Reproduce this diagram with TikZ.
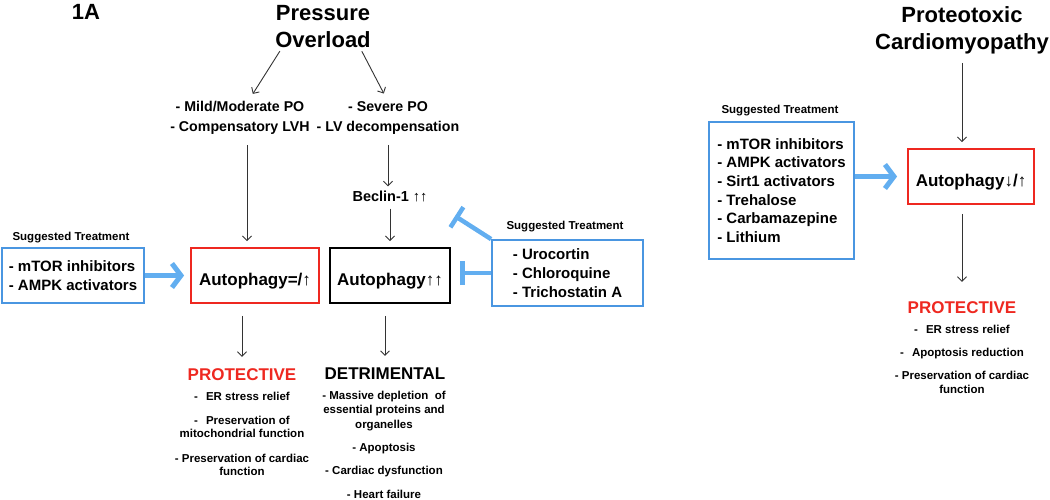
\documentclass[tikz,border=0pt]{standalone}
\usepackage{fontspec}
\setmainfont{Liberation Sans}
\usetikzlibrary{arrows.meta}

\definecolor{treatblue}{RGB}{98,174,240}
\definecolor{boxblue}{RGB}{74,150,225}
\definecolor{protred}{RGB}{238,40,32}

\newcommand\uparr{{\mdseries ↑}}
\newcommand\downarr{{\mdseries ↓}}

\tikzset{
  heading/.style={font=\bfseries\fontsize{22}{27}\selectfont, align=center, inner sep=0pt},
  sublabel/.style={font=\bfseries\fontsize{14.2}{20}\selectfont, align=center, inner sep=0pt},
  sugg/.style={font=\bfseries\fontsize{11.5}{14}\selectfont, inner sep=0pt},
  treat/.style={draw=boxblue, line width=1.8pt, font=\bfseries\fontsize{15}{18.7}\selectfont, align=left, inner sep=0pt},
  autobox/.style={draw, line width=1.8pt, font=\bfseries\fontsize{17}{20}\selectfont, minimum height=55pt, text height=24pt, text depth=4pt, inner sep=0pt},
  effect/.style={font=\bfseries\fontsize{17}{20}\selectfont, inner sep=0pt},
  itemlist/.style={font=\bfseries\fontsize{11.5}{13}\selectfont, align=center, inner sep=0pt, anchor=north},
  fine/.style={black!80, line width=0.9pt, -{Straight Barb[length=4.5pt,width=9pt]}},
  fat/.style={treatblue, line width=5pt, -{Straight Barb[length=9pt,width=24pt]}},
  inhib/.style={treatblue, line width=4.5pt, -{Bar[width=24pt]}}
}

\begin{document}
\begin{tikzpicture}[x=1pt, y=-1pt]
  \useasboundingbox (0,0) rectangle (1050,499);

  % headings
  \node[heading] (fig) at (86,12) {1A};
  \node[heading, anchor=north] (po) at (323,5) {Pressure\\Overload};
  \node[heading, anchor=north] (proteo) at (962,6) {Proteotoxic\\Cardiomyopathy};

  \node[sublabel, anchor=north] (mild) at (240,101.5) {- Mild/Moderate PO\\- Compensatory LVH};
  \node[sublabel, anchor=north] (severe) at (388,101.5) {- Severe PO\\- LV decompensation};
  \node[font=\bfseries\fontsize{14.5}{17}\selectfont, inner sep=0pt] (beclin) at (390,196) {Beclin-1 \uparr\uparr};

  % autophagy boxes
  \node[autobox, draw=protred, minimum width=128pt] (auto1) at (255,275.5) {Autophagy=/\uparr};
  \node[autobox, minimum width=120pt] (auto2) at (390,275.5) {Autophagy\uparr\uparr};
  \node[autobox, draw=protred, minimum width=126pt] (auto3) at (971,176.5) {Autophagy\downarr/\uparr};

  % treatments
  \foreach \x/\y/\n in {71/238/suggA, 565/227/suggB, 780/111/suggC}
    \node[sugg] (\n) at (\x,\y) {Suggested Treatment};
  \node[treat, minimum width=142pt, minimum height=55pt] (treat1) at (73,275.5)
    {- mTOR inhibitors\\- AMPK activators};
  \node[treat, minimum width=151pt, minimum height=66pt] (treat2) at (567.5,273)
    {- Urocortin\\- Chloroquine\\- Trichostatin A};
  \node[treat, minimum width=145pt, minimum height=137pt] (treat3) at (781.5,190.5)
    {- mTOR inhibitors\\- AMPK activators\\- Sirt1 activators\\- Trehalose\\- Carbamazepine\\- Lithium};

  % outcomes
  \node[effect, text=protred] (prot1) at (242,375) {PROTECTIVE};
  \node[effect] (det) at (385,374) {DETRIMENTAL};
  \node[effect, text=protred] (prot3) at (962,308) {PROTECTIVE};

  \node[itemlist] (protlist1) at (242,391.5) {-\hspace{8pt}ER stress relief\\[11.5pt]
    -\hspace{8pt}Preservation of\\mitochondrial function\\[11.5pt]
    - Preservation of cardiac\\function};
  \node[itemlist, font=\bfseries\fontsize{11.5}{14.5}\selectfont] (detlist) at (384,390.5)
    {- Massive depletion\ \ of\\essential proteins and\\organelles\\[8.5pt]
    - Apoptosis\\[8.5pt]- Cardiac dysfunction\\[9.5pt]- Heart failure};
  \node[itemlist, font=\bfseries\fontsize{11.5}{14}\selectfont] (protlist3) at (962,324.5)
    {-\hspace{8pt}ER stress relief\\[9.5pt]-\hspace{8pt}Apoptosis reduction\\[9pt]
    - Preservation of cardiac\\function};

  % connectors
  \draw[fine, shorten <=4pt, shorten >=9pt] ([xshift=-41pt]po.south) -- ([xshift=8pt]mild.north);
  \draw[fine, shorten <=4pt, shorten >=9pt] ([xshift=37pt]po.south) -- (severe.north);
  \draw[fine, shorten <=10pt, shorten >=6pt] ([xshift=7pt]mild.south) -- ([xshift=7pt]mild.south |- auto1.north);
  \draw[fine, shorten <=10pt, shorten >=4pt] (severe.south) -- (severe.south |- beclin.north);
  \draw[fine, shorten <=7pt, shorten >=6pt] (beclin.south -| auto2.north) -- (auto2.north);
  \draw[fine, shorten <=12pt, shorten >=12pt] (auto1.south -| prot1.north) -- (prot1.north);
  \draw[fine, shorten <=12pt, shorten >=12pt] (auto2.south -| det.north) -- (det.north);
  \draw[fine, shorten <=9pt, shorten >=6pt] (proteo.south) -- (proteo.south |- auto3.north);
  \draw[fine, shorten <=9pt, shorten >=20pt] (auto3.south -| prot3.north) -- (prot3.north);

  \draw[fat, shorten >=6pt] (treat1.east) -- (auto1.west);
  \draw[fat, shorten >=10pt] (treat3.east |- auto3.west) -- (auto3.west);

  \coordinate (stopA) at (460,273);
  \coordinate (stopB) at (455,216);
  \draw[inhib] (treat2.west) -- (stopA);
  \draw[inhib] (treat2.north west) -- (stopB);
\end{tikzpicture}
\end{document}
